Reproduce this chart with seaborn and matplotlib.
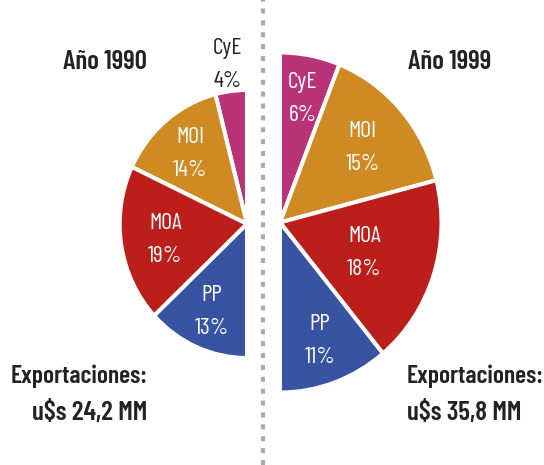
import numpy as np
import matplotlib
matplotlib.use("Agg")
import matplotlib.pyplot as plt
import seaborn as sns

categories = ["CyE", "MOI", "MOA", "PP"]
share_1990 = [4, 14, 19, 13]
share_1999 = [6, 15, 18, 11]
exports_1990 = "24,2"
exports_1999 = "35,8"
titles = ["Año 1990", "Año 1999"]

colors = ["#B93378", "#CF8A23", "#BB1E1B", "#3753A1"]
DARK = "#222222"

sns.set_theme(style="white")
FAM = ["Barlow Condensed", "DejaVu Sans"]
plt.rcParams["font.family"] = FAM

W, H = 544, 465
SX = 0.95  # horizontal squeeze of the reference


def px(x):
    return x / SX


def py(y):
    return H - y


fig = plt.figure(figsize=(W / 100, H / 100), dpi=100)
ax = fig.add_axes([0, 0, 1, 1])
ax.axis("off")


def half_pie(values, center, radius, counterclock, label_dist, label_colors):
    fr = [v / 100 for v in values]
    wedges, _ = ax.pie(fr, colors=colors, startangle=90, counterclock=counterclock,
                       normalize=False, center=center, radius=radius,
                       wedgeprops=dict(edgecolor="white", linewidth=2.9))
    for w, cat, v, d, c in zip(wedges, categories, values, label_dist, label_colors):
        mid = np.deg2rad((w.theta1 + w.theta2) / 2)
        x = center[0] + d * radius * np.cos(mid)
        y = center[1] + d * radius * np.sin(mid)
        ax.text(x, y + 9, cat, ha="center", va="baseline", color=c,
                fontsize=17, fontweight=400)
        ax.text(x, y - 24, f"{v}%", ha="center", va="baseline", color=c,
                fontsize=17, fontweight=400)


half_pie(share_1990, (px(247), py(224)), 134, True, [1.21, 0.70, 0.65, 0.70],
         [DARK, "white", "white", "white"])
half_pie(share_1999, (px(280), py(222.5)), 170, False, [0.75, 0.68, 0.55, 0.73],
         ["white"] * 4)

ax.set_aspect("auto")
ax.set_xlim(0, px(W))
ax.set_ylim(0, H)

ax.axvline(px(263), color="#aaaaaa", lw=2.9, linestyle=(0, (1.25, 1.7)),
           dash_capstyle="butt")

ax.text(px(105), py(69), titles[0], ha="center", va="baseline", fontsize=19.5,
        fontweight=600, color=DARK)
ax.text(px(449.5), py(69), titles[1], ha="center", va="baseline", fontsize=19.5,
        fontweight=600, color=DARK)

ax.text(px(147), py(383), "Exportaciones:", ha="right", va="baseline", fontsize=18.4,
        fontweight=600, color=DARK)
ax.text(px(147), py(420), f"u$s {exports_1990} MM", ha="right", va="baseline",
        fontsize=19.5, fontweight=600, color=DARK)
ax.text(px(407), py(383), "Exportaciones:", ha="left", va="baseline", fontsize=18.4,
        fontweight=600, color=DARK)
ax.text(px(407), py(420), f"u$s {exports_1999} MM", ha="left", va="baseline",
        fontsize=19.5, fontweight=600, color=DARK)

fig.savefig("out.png", dpi=100, facecolor="white")
